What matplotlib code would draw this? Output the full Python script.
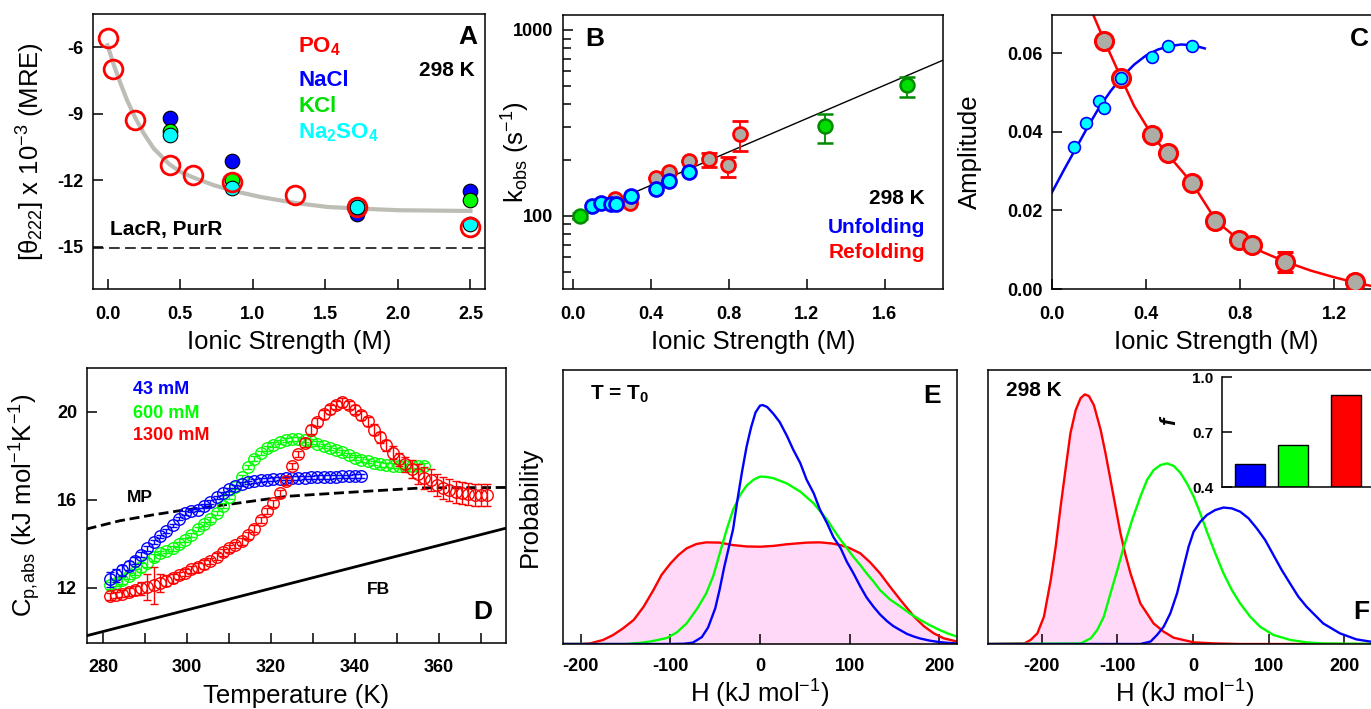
import numpy as np
import matplotlib
matplotlib.use("Agg")
import matplotlib.pyplot as plt
from matplotlib.ticker import LogLocator, NullFormatter

plt.rcParams['font.family'] = ['Liberation Sans', 'DejaVu Sans']
plt.rcParams['mathtext.fontset'] = 'custom'
plt.rcParams['mathtext.rm'] = 'Liberation Sans'
plt.rcParams['mathtext.it'] = 'Liberation Sans:italic'
plt.rcParams['mathtext.bf'] = 'Liberation Sans:bold'
plt.rcParams['axes.linewidth'] = 1.1

# ---------------- data ----------------
# A: MRE vs ionic strength
po4_x = [0.0, 0.04, 0.19, 0.43, 0.59, 0.86, 1.29, 1.72, 2.5]
po4_y = [-5.6, -6.96, -9.26, -11.3, -11.77, -12.07, -12.67, -13.2, -14.1]
salt_x = [0.43, 0.86, 1.72, 2.5]
nacl_y = [-9.21, -11.12, -13.52, -12.47]
kcl_y = [-9.77, -11.99, -13.2, -12.9]
na2so4_y = [-9.96, -12.36, -13.22, -13.97]
fitA_x = [0.0, 0.044, 0.09, 0.135, 0.188, 0.25, 0.319, 0.425, 0.503, 0.59, 0.732,
          0.87, 1.054, 1.293, 1.513, 1.715, 2.018, 2.5]
fitA_y = [-5.91, -6.81, -7.64, -8.39, -9.14, -9.89, -10.57, -11.27, -11.62, -11.87,
          -12.22, -12.48, -12.75, -13.02, -13.2, -13.27, -13.35, -13.38]

# B: kobs
refold_x = [0.219, 0.294, 0.428, 0.496, 0.595, 0.698, 0.797, 0.859]
refold_y = [124, 117, 161, 172, 198, 202, 187, 277]
refold_lo = [0, 0, 0, 0, 0, 18, 24, 53]
refold_hi = [0, 0, 0, 0, 0, 15, 21, 49]
unfold_x = [0.098, 0.147, 0.197, 0.222, 0.297, 0.428, 0.496, 0.595]
unfold_y = [113.6, 118, 116.5, 116.5, 128, 140, 154, 172]
kcl_bx = [0.038, 1.297, 1.717]
kcl_by = [100, 305, 506]
kcl_lo = [4, 57, 68]
kcl_hi = [4, 47, 54]
lineB_x = [0.0, 1.9]
lineB_y = [96.6, 688]

# C: amplitudes
ampR_x = [0.223, 0.294, 0.426, 0.494, 0.596, 0.692, 0.794, 0.851, 0.993, 1.291]
ampR_y = [0.0631, 0.0537, 0.0391, 0.0347, 0.0269, 0.0174, 0.0124, 0.0111, 0.0069, 0.0017]
ampR_err = [0, 0, 0, 0, 0, 0, 0, 0, 0.0025, 0]
ampU_x = [0.095, 0.145, 0.199, 0.223, 0.295, 0.426, 0.495, 0.596]
ampU_y = [0.0361, 0.0422, 0.0477, 0.046, 0.0537, 0.059, 0.0619, 0.0617]
fitR_x = [0.17, 0.223, 0.294, 0.35, 0.426, 0.494, 0.55, 0.6, 0.7, 0.8, 0.85, 0.9,
          1.0, 1.1, 1.2, 1.3, 1.4]
fitR_y = [0.0705, 0.0631, 0.0537, 0.0465, 0.0391, 0.0341, 0.0302, 0.0266, 0.0172,
          0.0123, 0.0108, 0.0093, 0.0068, 0.0047, 0.0030, 0.0015, 0.0003]
fitU_x = [0, 0.05, 0.1, 0.15, 0.2, 0.25, 0.3, 0.35, 0.4, 0.45, 0.5, 0.55, 0.6, 0.65]
fitU_y = [0.0246, 0.0302, 0.0356, 0.0410, 0.0461, 0.0504, 0.0541, 0.0571, 0.0594,
          0.0609, 0.0618, 0.0622, 0.0620, 0.0612]

# D: DSC
temps = [281.5, 283.0, 284.5, 286.0, 287.5, 289.0, 290.5, 292.0, 293.5, 295.0,
         296.5, 298.0, 299.5, 301.0, 302.5, 304.0, 305.5, 307.0, 308.5, 310.0,
         311.5, 313.0, 314.5, 316.0, 317.5, 319.0, 320.5, 322.0, 323.5, 325.0,
         326.5, 328.0, 329.5, 331.0, 332.5, 334.0, 335.5, 337.0, 338.5, 340.0,
         341.5, 343.0, 344.5, 346.0, 347.5, 349.0, 350.5, 352.0, 353.5, 355.0,
         356.5, 358.0, 359.5, 361.0, 362.5, 364.0, 365.5, 367.0, 368.5, 370.0,
         371.5]
cp_43 = [12.40, 12.58, 12.80, 13.02, 13.25, 13.52, 13.80, 14.08, 14.35, 14.58,
         14.85, 15.15, 15.42, 15.52, 15.56, 15.72, 15.92, 16.12, 16.30, 16.48,
         16.62, 16.72, 16.80, 16.86, 16.90, 16.93, 16.95, 16.97, 16.98, 17.00,
         17.01, 17.02, 17.03, 17.04, 17.05, 17.05, 17.06, 17.07, 17.07, 17.08,
         17.10]
err_43 = [0.35, 0.3, 0.25, 0.2, 0.15, 0.12, 0.1, 0.1, 0.08, 0.08,
          0.08, 0.08, 0.08, 0.08, 0.08, 0.08, 0.08, 0.08, 0.08, 0.08,
          0.08, 0.08, 0.08, 0.08, 0.08, 0.08, 0.08, 0.08, 0.08, 0.08,
          0.08, 0.08, 0.08, 0.08, 0.08, 0.08, 0.08, 0.08, 0.08, 0.08,
          0.08]
cp_600 = [12.12, 12.25, 12.35, 12.55, 12.72, 12.95, 13.15, 13.40, 13.58, 13.68,
          13.80, 13.98, 14.18, 14.42, 14.68, 14.90, 15.12, 15.40, 15.75, 16.15,
          16.58, 17.05, 17.50, 17.88, 18.15, 18.35, 18.52, 18.64, 18.72, 18.76,
          18.77, 18.74, 18.66, 18.56, 18.46, 18.36, 18.26, 18.16, 18.04, 17.93,
          17.84, 17.76, 17.68, 17.62, 17.58, 17.56, 17.55, 17.55, 17.55, 17.55,
          17.56]
err_600 = [0.15, 0.15, 0.15, 0.15, 0.15, 0.2, 0.2, 0.15, 0.1, 0.1,
           0.1, 0.1, 0.1, 0.1, 0.1, 0.1, 0.1, 0.1, 0.1, 0.1,
           0.1, 0.1, 0.1, 0.1, 0.1, 0.1, 0.1, 0.1, 0.1, 0.1,
           0.1, 0.1, 0.1, 0.1, 0.1, 0.1, 0.1, 0.1, 0.1, 0.1,
           0.1, 0.1, 0.1, 0.1, 0.1, 0.1, 0.1, 0.1, 0.1, 0.1,
           0.1]
cp_1300 = [11.62, 11.68, 11.75, 11.82, 11.90, 11.98, 12.05, 12.12, 12.22, 12.33,
           12.45, 12.58, 12.70, 12.85, 12.95, 13.08, 13.22, 13.42, 13.62, 13.80,
           13.95, 14.12, 14.40, 14.70, 15.10, 15.50, 15.85, 16.30, 16.85, 17.55,
           18.10, 18.60, 19.20, 19.55, 19.90, 20.12, 20.32, 20.44, 20.32, 20.10,
           19.85, 19.58, 19.20, 18.85, 18.50, 18.15, 17.85, 17.62, 17.42, 17.20,
           17.02, 16.90, 16.70, 16.55, 16.45, 16.36, 16.30, 16.27, 16.25, 16.24,
           16.22]
err_1300 = [0.15, 0.15, 0.15, 0.2, 0.2, 0.3, 0.6, 0.85, 0.4, 0.25,
            0.2, 0.15, 0.15, 0.15, 0.2, 0.2, 0.15, 0.15, 0.15, 0.15,
            0.15, 0.15, 0.15, 0.15, 0.15, 0.15, 0.15, 0.15, 0.15, 0.15,
            0.15, 0.2, 0.2, 0.2, 0.2, 0.2, 0.2, 0.2, 0.2, 0.2,
            0.2, 0.2, 0.25, 0.25, 0.25, 0.3, 0.3, 0.35, 0.4, 0.45,
            0.5, 0.5, 0.5, 0.5, 0.5, 0.5, 0.5, 0.5, 0.5, 0.5,
            0.5]
mp_x = [276, 284, 292, 298.4, 311, 324, 337, 356, 376]
mp_y = [14.68, 15.06, 15.33, 15.52, 15.83, 16.17, 16.33, 16.55, 16.57]
fb_x = [276, 376]
fb_y = [9.83, 14.72]

# E: enthalpy distributions at T0
hE_43 = [-220, -100, -85, -75, -65, -58, -50, -45, -40, -35, -30, -25, -20, -15, -10,
         -5, 0, 3, 8, 15, 22, 30, 37, 45, 52, 60, 67, 75, 82, 90, 97, 104, 112, 119,
         127, 134, 142, 149, 157, 164, 172, 179, 190, 200, 210, 220]
pE_43 = [0, 0, 0.001, 0.005, 0.025, 0.06, 0.13, 0.20, 0.28, 0.35, 0.42, 0.53, 0.63,
         0.72, 0.79, 0.845, 0.87, 0.872, 0.865, 0.84, 0.81, 0.76, 0.71, 0.66, 0.60,
         0.55, 0.49, 0.44, 0.39, 0.35, 0.30, 0.26, 0.21, 0.17, 0.135, 0.108, 0.083,
         0.065, 0.05, 0.037, 0.027, 0.02, 0.012, 0.007, 0.004, 0.002]
hE_600 = [-220, -150, -135, -125, -115, -104, -93, -82, -70, -60, -52, -45, -37, -30,
          -22, -15, -7, 0, 7, 15, 22, 30, 37, 45, 52, 60, 67, 75, 82, 90, 97, 104,
          112, 119, 127, 134, 145, 157, 168, 179, 190, 200, 210, 220]
pE_600 = [0, 0, 0.004, 0.008, 0.014, 0.022, 0.042, 0.075, 0.13, 0.185, 0.25, 0.33,
          0.42, 0.49, 0.545, 0.578, 0.60, 0.611, 0.61, 0.605, 0.596, 0.586, 0.572,
          0.556, 0.536, 0.513, 0.485, 0.453, 0.418, 0.38, 0.35, 0.319, 0.288, 0.258,
          0.227, 0.197, 0.163, 0.136, 0.11, 0.088, 0.068, 0.052, 0.038, 0.027]
hE_1300 = [-220, -200, -190, -175, -164, -153, -141, -130, -119, -110, -100, -91, -82,
           -71, -60, -45, -30, -15, 0, 15, 30, 52, 67, 80, 90, 100, 112, 123, 134, 145,
           157, 165, 172, 183, 194, 205, 220]
pE_1300 = [0, 0.0, 0.002, 0.015, 0.033, 0.057, 0.088, 0.136, 0.197, 0.252, 0.294,
           0.325, 0.349, 0.365, 0.371, 0.37, 0.361, 0.356, 0.355, 0.358, 0.364, 0.37,
           0.371, 0.367, 0.361, 0.35, 0.331, 0.298, 0.258, 0.21, 0.16, 0.128, 0.1,
           0.065, 0.039, 0.021, 0.009]

# F: enthalpy distributions at 298 K
hF_1300 = [-271, -223, -214.5, -205.7, -197, -188, -181.5, -175, -168, -162, -155,
           -148.6, -143, -137.6, -131, -122, -115.6, -109, -102.4, -95.8, -89.2,
           -82.6, -69.5, -52, -38.7, -25.5, 1, 30, 62, 250]
pF_1300 = [0, 0.002, 0.015, 0.039, 0.1, 0.234, 0.355, 0.501, 0.647, 0.769, 0.854,
           0.897, 0.911, 0.905, 0.872, 0.781, 0.696, 0.599, 0.501, 0.404, 0.325,
           0.258, 0.148, 0.075, 0.045, 0.023, 0.006, 0.002, 0, 0]
hF_600 = [-271, -148.6, -135, -126.6, -117.8, -109, -100, -91.4, -80.4, -69.5, -60.7,
          -51.9, -43, -34.3, -25.5, -16.7, -7.9, 0.9, 9.7, 18.5, 29.5, 40.4, 51.4,
          62.4, 75.6, 88.8, 106.4, 128.4, 150, 172, 250]
pF_600 = [0, 0.002, 0.021, 0.051, 0.1, 0.185, 0.27, 0.355, 0.453, 0.538, 0.599, 0.635,
          0.653, 0.659, 0.65, 0.625, 0.586, 0.538, 0.477, 0.41, 0.331, 0.258, 0.197,
          0.148, 0.1, 0.063, 0.033, 0.015, 0.006, 0.002, 0]
hF_43 = [-271, -69.5, -56, -47.5, -38.7, -29.9, -21, -12.3, -5.7, 0.9, 9.7, 18.5,
         29.5, 40.4, 51.4, 62.4, 73.4, 84.4, 95.4, 106.4, 117.4, 128.4, 139.3, 150.3,
         172.3, 194.3, 216, 234, 250]
pF_43 = [0, 0, 0.009, 0.033, 0.063, 0.112, 0.185, 0.282, 0.355, 0.41, 0.446, 0.471,
         0.489, 0.498, 0.495, 0.483, 0.459, 0.422, 0.38, 0.325, 0.27, 0.221, 0.173,
         0.136, 0.075, 0.039, 0.017, 0.009, 0.005]

# inset: fraction f
f_ionic = [0.043, 0.6, 1.3]
f_vals = [0.528, 0.631, 0.9]

RED, BLUE, GREEN, CYAN = '#FF0000', '#0000FF', '#00FF00', '#00FFFF'
GRAY = '#ADADA5'
PINK = '#FFD9F7'

W, H = 1371, 709
fig = plt.figure(figsize=(W / 100, H / 100), dpi=100)


def axes_px(l, t, r, b):
    return fig.add_axes([l / W, 1 - b / H, (r - l) / W, (b - t) / H])


def text_px(x, y, s, **kw):
    fig.text(x / W, 1 - y / H, s, **kw)


def style(ax, xpad=12):
    ax.tick_params(which='both', direction='in', width=1.1, labelsize=13)
    ax.tick_params(which='major', length=7.5)
    ax.tick_params(which='minor', length=5.5)
    ax.tick_params(axis='x', pad=xpad)
    ax.tick_params(axis='y', pad=7)


LBL = 18.5

# ---------------- A ----------------
ax = axes_px(93, 14, 485, 289)
style(ax)
ax.plot(fitA_x, fitA_y, color='#BDBDB5', lw=3, zorder=1)
ax.axhline(-15.05, color='black', lw=1.1, dashes=(7, 3.5))
ax.plot(salt_x, nacl_y, 'o', ms=10.5, mfc=BLUE, mec='black', mew=0.8)
ax.plot(salt_x, kcl_y, 'o', ms=10.5, mfc=GREEN, mec='black', mew=0.8)
ax.plot(salt_x, na2so4_y, 'o', ms=10.5, mfc=CYAN, mec='black', mew=0.8)
ax.plot(po4_x, po4_y, 'o', ms=13.5, mfc='none', mec=RED, mew=2)
ax.set_xlim(-0.1, 2.6)
ax.set_ylim(-16.9, -4.5)
ax.set_xticks([0, 0.5, 1.0, 1.5, 2.0, 2.5], ['0.0', '0.5', '1.0', '1.5', '2.0', '2.5'],
              fontweight='bold')
ax.set_yticks([-6, -9, -12, -15], ['-6', '-9', '-12', '-15'], fontweight='bold')
ax.set_xlabel('Ionic Strength (M)', fontsize=LBL)
ax.set_ylabel('[θ$_{222}$] x 10$^{-3}$ (MRE)', fontsize=LBL)
ax.xaxis.set_label_coords(0.5, -0.15)
ax.yaxis.set_label_coords(-0.117, 0.5)
text_px(477, 37, 'A', fontsize=19, fontweight='bold', ha='right', va='center')
text_px(475, 70, '298 K', fontsize=15, fontweight='bold', ha='right', va='center')
text_px(298, 47, r'PO$_\mathbf{4}$', fontsize=16, fontweight='bold', color=RED, va='center')
text_px(298, 80, 'NaCl', fontsize=16, fontweight='bold', color=BLUE, va='center')
text_px(298, 106, 'KCl', fontsize=16, fontweight='bold', color='#00E000', va='center')
text_px(298, 133, r'Na$_\mathbf{2}$SO$_\mathbf{4}$', fontsize=16, fontweight='bold',
        color=CYAN, va='center')
text_px(110, 230, 'LacR, PurR', fontsize=15, fontweight='bold', va='center')

# ---------------- B ----------------
ax = axes_px(563, 15, 943, 289)
style(ax)
ax.set_yscale('log')
ax.plot(lineB_x, lineB_y, color='black', lw=1, zorder=1)
ax.errorbar(refold_x, refold_y, yerr=[refold_lo, refold_hi], fmt='o', ms=10,
            mfc=GRAY, mec=RED, mew=2, ecolor=RED, elinewidth=1.3, capsize=6, zorder=3)
ax.plot(unfold_x, unfold_y, 'o', ms=10, mfc=CYAN, mec=BLUE, mew=2, zorder=4)
ax.errorbar(kcl_bx, kcl_by, yerr=[kcl_lo, kcl_hi], fmt='o', ms=10, mfc='#00DD00',
            mec='#008A00', mew=1.8, ecolor='#008A00', elinewidth=1.3, capsize=6, zorder=5)
ax.set_xlim(-0.05, 1.9)
ax.set_ylim(40.5, 1204)
ax.set_xticks([0, 0.4, 0.8, 1.2, 1.6], ['0.0', '0.4', '0.8', '1.2', '1.6'], fontweight='bold')
ax.set_yticks([100, 1000], ['100', '1000'], fontweight='bold')
ax.yaxis.set_minor_locator(LogLocator(base=10, subs=range(2, 10)))
ax.yaxis.set_minor_formatter(NullFormatter())
ax.set_xlabel('Ionic Strength (M)', fontsize=LBL)
ax.set_ylabel(r'k$_{\mathrm{obs}}$ (s$^{-1}$)', fontsize=LBL)
ax.xaxis.set_label_coords(0.5, -0.15)
ax.yaxis.set_label_coords(-0.082, 0.5)
text_px(585, 39, 'B', fontsize=19, fontweight='bold', va='center')
text_px(925, 199, '298 K', fontsize=15, fontweight='bold', ha='right', va='center')
text_px(925, 228, 'Unfolding', fontsize=15, fontweight='bold', color=BLUE, ha='right',
        va='center')
text_px(925, 253, 'Refolding', fontsize=15, fontweight='bold', color=RED, ha='right',
        va='center')

# ---------------- C ----------------
ax = axes_px(1052, 15, 1381, 289)
style(ax)
ax.plot(fitR_x, fitR_y, color=RED, lw=1.8, zorder=1)
ax.plot(fitU_x, fitU_y, color=BLUE, lw=1.8, zorder=1)
ax.errorbar(ampR_x, ampR_y, yerr=ampR_err, fmt='o', ms=13, mfc=GRAY, mec=RED, mew=2.2,
            ecolor=RED, elinewidth=1.3, capsize=6, zorder=3)
ax.plot(ampU_x, ampU_y, 'o', ms=8.5, mfc=CYAN, mec=BLUE, mew=1.2, zorder=4)
ax.set_xlim(0, 1.4)
ax.set_ylim(0, 0.0697)
ax.set_xticks([0, 0.4, 0.8, 1.2], ['0.0', '0.4', '0.8', '1.2'], fontweight='bold')
ax.set_yticks([0, 0.02, 0.04, 0.06], ['0.00', '0.02', '0.04', '0.06'], fontweight='bold')
ax.set_xlabel('Ionic Strength (M)', fontsize=LBL)
ax.set_ylabel('Amplitude', fontsize=LBL)
ax.xaxis.set_label_coords(0.5, -0.15)
ax.yaxis.set_label_coords(-0.213, 0.5)
text_px(1350, 39, 'C', fontsize=19, fontweight='bold', va='center')

# ---------------- D ----------------
ax = axes_px(87, 368, 506, 643)
style(ax, xpad=11.5)
ax.plot(fb_x, fb_y, color='black', lw=2, zorder=1)
ax.plot(mp_x, mp_y, color='black', lw=2, dashes=(3.6, 1.7), zorder=1)
ax.errorbar(temps[:51], cp_600, yerr=err_600, fmt='o', ms=8.3, mfc='none', mec=GREEN,
            mew=1, ecolor=GREEN, elinewidth=1, capsize=3, zorder=2)
ax.errorbar(temps[:41], cp_43, yerr=err_43, fmt='o', ms=8.3, mfc='none', mec=BLUE,
            mew=1, ecolor=BLUE, elinewidth=1, capsize=3, zorder=3)
ax.errorbar(temps, cp_1300, yerr=err_1300, fmt='o', ms=8.3, mfc='none', mec=RED,
            mew=1, ecolor=RED, elinewidth=1, capsize=3, zorder=4)
ax.set_xlim(276.1, 376)
ax.set_ylim(9.5, 22)
ax.set_xticks([280, 300, 320, 340, 360], ['280', '300', '320', '340', '360'],
              fontweight='bold')
ax.set_xticks([290, 310, 330, 350, 370], minor=True)
ax.tick_params(axis='x', which='minor', length=7.5)
ax.set_yticks([12, 16, 20], ['12', '16', '20'], fontweight='bold')
ax.set_xlabel('Temperature (K)', fontsize=LBL)
ax.set_ylabel(r'C$_{\mathrm{p,\!abs}}$ (kJ mol$^{-1}$K$^{-1}$)', fontsize=LBL)
ax.xaxis.set_label_coords(0.5, -0.15)
ax.yaxis.set_label_coords(-0.105, 0.5)
text_px(133, 390, '43 mM', fontsize=13, fontweight='bold', color=BLUE, va='center')
text_px(133, 413, '600 mM', fontsize=13, fontweight='bold', color=GREEN, va='center')
text_px(133, 435, '1300 mM', fontsize=13, fontweight='bold', color=RED, va='center')
text_px(127, 497, 'MP', fontsize=12.5, fontweight='bold', va='center')
text_px(367, 590, 'FB', fontsize=12.5, fontweight='bold', va='center')
text_px(473, 612, 'D', fontsize=19, fontweight='bold', va='center')

# ---------------- E ----------------
ax = axes_px(563, 370, 957, 644)
style(ax, xpad=10)
ax.fill_between(hE_1300, pE_1300, 0, color=PINK, lw=0)
ax.plot(hE_1300, pE_1300, color=RED, lw=1.7)
ax.plot(hE_600, pE_600, color=GREEN, lw=1.7)
ax.plot(hE_43, pE_43, color=BLUE, lw=1.7)
ax.set_xlim(-220, 220)
ax.set_ylim(0, 1)
ax.set_xticks([-200, -100, 0, 100, 200], ['-200', '-100', '0', '100', '200'],
              fontweight='bold')
ax.set_yticks([])
ax.set_xlabel(r'H (kJ mol$^{-1}$)', fontsize=LBL)
ax.set_ylabel('Probability', fontsize=LBL)
ax.xaxis.set_label_coords(0.5, -0.122)
ax.yaxis.set_label_coords(-0.053, 0.5)
text_px(590, 394, r'T = T$_\mathbf{0}$', fontsize=15, fontweight='bold', va='center')
text_px(923, 396, 'E', fontsize=19, fontweight='bold', va='center')

# ---------------- F ----------------
ax = axes_px(988, 370, 1382, 644)
style(ax, xpad=10)
ax.fill_between(hF_1300, pF_1300, 0, color=PINK, lw=0)
ax.plot(hF_1300, pF_1300, color=RED, lw=1.7)
ax.plot(hF_600, pF_600, color=GREEN, lw=1.7)
ax.plot(hF_43, pF_43, color=BLUE, lw=1.7)
ax.set_xlim(-271, 250)
ax.set_ylim(0, 1)
ax.set_xticks([-200, -100, 0, 100, 200], ['-200', '-100', '0', '100', '200'],
              fontweight='bold')
ax.set_yticks([])
ax.set_xlabel(r'H (kJ mol$^{-1}$)', fontsize=LBL)
ax.xaxis.set_label_coords(0.5, -0.122)
text_px(1006, 391, '298 K', fontsize=15, fontweight='bold', va='center')
text_px(1353, 612, 'F', fontsize=19, fontweight='bold', va='center')

# inset
axi = axes_px(1222, 377, 1400, 487)
axi.patch.set_alpha(0)
axi.bar(f_ionic, np.array(f_vals) - 0.4, bottom=0.4, width=0.39,
        color=[BLUE, GREEN, RED], edgecolor='black', lw=1)
axi.set_xlim(-0.322, 2.0)
axi.set_ylim(0.4, 1.0)
axi.spines['top'].set_visible(False)
axi.spines['right'].set_visible(False)
axi.set_xticks([])
axi.set_yticks([0.4, 0.7, 1.0], ['0.4', '0.7', '1.0'], fontweight='bold')
axi.tick_params(direction='in', length=7.5, width=1.1, labelsize=11, pad=6)
text_px(1170, 421, 'f', fontsize=16, fontweight='bold', fontstyle='italic', rotation=90,
        ha='center', va='center')

fig.savefig('out.png', dpi=100)
